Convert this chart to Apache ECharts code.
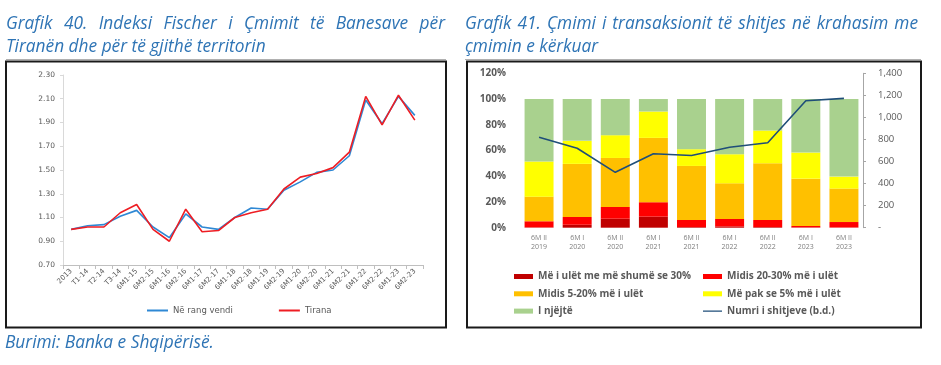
<!DOCTYPE html>
<html><head><meta charset="utf-8">
<script src="https://cdn.jsdelivr.net/npm/echarts@6/dist/echarts.min.js"></script>
<style>html,body{margin:0;padding:0;background:#fff}#c{width:941px;height:365px}</style>
</head><body><div id="c"></div>
<script>
// ---- Left chart data ----
const catsL = ['2013','T1-14','T2-14','T3-14','6M1-15','6M2-15','6M1-16','6M2-16','6M1-17','6M2-17','6M1-18','6M2-18','6M1-19','6M2-19','6M1-20','6M2-20','6M1-21','6M2-21','6M1-22','6M2-22','6M1-23','6M2-23'];
const vendi  = [1.00,1.03,1.04,1.11,1.16,1.02,0.93,1.13,1.02,1.00,1.10,1.18,1.17,1.33,1.40,1.48,1.50,1.62,2.09,1.89,2.12,1.96];
const tirana = [1.00,1.02,1.02,1.14,1.21,1.00,0.90,1.17,0.98,0.99,1.10,1.14,1.17,1.34,1.44,1.47,1.52,1.65,2.12,1.88,2.13,1.92];
const yTicksL = [0.70,0.90,1.10,1.30,1.50,1.70,1.90,2.10,2.30];

// ---- Right chart data ----
const catsR = ['6M II\n2019','6M I\n2020','6M II\n2020','6M I\n2021','6M II\n2021','6M I\n2022','6M II\n2022','6M I\n2023','6M II\n2023'];
const darkRed = [0.3,2.3,7.0,8.6,0.5,1.0,0.5,0.3,0.2];
const red     = [4.7,6.0,9.1,11.2,5.5,5.8,5.5,1.0,4.2];
const orange  = [19.1,41.3,38.1,50.0,42.0,27.7,44.1,36.8,26.0];
const yellow  = [27.3,17.9,17.7,20.5,13.0,22.6,25.4,20.3,9.3];
const green   = [48.6,32.5,28.1,9.7,39.0,42.9,24.5,41.6,60.3];
const sales   = [820,720,502,671,655,729,771,1151,1173];

const titleL1 = 'Grafik 40. Indeksi Fischer i Çmimit të Banesave për';
const titleL2 = 'Tiranën dhe për të gjithë territorin';
const titleR1 = 'Grafik 41. Çmimi i transaksionit të shitjes në krahasim me';
const titleR2 = 'çmimin e kërkuar';
const source  = 'Burimi: Banka e Shqipërisë.';

const TFONT = 'italic 17.3px "Open Sans"';
const TCOL = '#2e74b5';
const cv = document.createElement('canvas').getContext('2d');
cv.font = TFONT;
function justify(line, x0, x1, y) {
  const words = line.split(' ');
  const ws = words.map(w => cv.measureText(w).width);
  const tot = ws.reduce((a,b)=>a+b,0);
  const gap = (x1 - x0 - tot) / (words.length - 1);
  let x = x0; const out = [];
  words.forEach((w,i) => {
    out.push({type:'text', x:x, y:y, style:{text:w, font:TFONT, fill:TCOL, verticalAlign:'middle'}});
    x += ws[i] + gap;
  });
  return out;
}
function plain(line, x, y) {
  return {type:'text', x:x, y:y, style:{text:line, font:TFONT, fill:TCOL, verticalAlign:'middle'}};
}

const graphics = [].concat(
  justify(titleL1, 6, 445, 24),
  [plain(titleL2, 6, 47)],
  justify(titleR1, 465, 918, 24),
  [plain(titleR2, 465, 47)],
  [plain(source, 5, 343)],
  [
    {type:'line', shape:{x1:6,y1:59.5,x2:446,y2:59.5}, style:{stroke:'#b0b0b0', lineWidth:1}},
    {type:'line', shape:{x1:465,y1:59.5,x2:921,y2:59.5}, style:{stroke:'#b0b0b0', lineWidth:1}},
    {type:'rect', shape:{x:6,y:61.5,width:440,height:266}, style:{fill:null, stroke:'#1a1a1a', lineWidth:2}, z:-1},
    {type:'rect', shape:{x:467,y:61.5,width:454,height:266}, style:{fill:null, stroke:'#1a1a1a', lineWidth:2}, z:-1}
  ]
);

const chart = echarts.init(document.getElementById('c'), null, {renderer:'canvas'});
const lblL = {fontFamily:'DejaVu Sans', color:'#595959'};
const lblR = {fontFamily:'Open Sans', color:'#595959'};
const lineIcon = 'path://M0,0L0,0Z M0,1.8H19V3.2H0Z M0,5L0,5Z';

chart.setOption({
  animation:false,
  backgroundColor:'#fff',
  graphic: graphics,
  grid:[
    {left:63, right:941-423, top:75, bottom:365-265, containLabel:false},
    {left:520, right:941-863, top:73.3, bottom:365-227.7, containLabel:false}
  ],
  legend:[
    {data:['Në rang vendi','Tirana'], left:142, top:301, itemWidth:21, itemHeight:2, itemGap:46, icon:'rect',
     textStyle:{...lblL, fontSize:8.5}},
    {orient:'vertical', left:509, top:265.5, itemWidth:19, itemHeight:5, itemGap:5.3,
     data:[{name:'Më i ulët me më shumë se 30%', icon:'rect'},{name:'Midis 5-20% më i ulët', icon:'rect'},{name:'I njëjtë', icon:'rect'}],
     textStyle:{...lblR, fontSize:10, fontWeight:'bold', lineHeight:12}},
    {orient:'vertical', left:698, top:265.5, itemWidth:19, itemHeight:5, itemGap:5.3,
     data:[{name:'Midis 20-30% më i ulët', icon:'rect'},{name:'Më pak se 5% më i ulët', icon:'rect'},{name:'Numri i shitjeve (b.d.)', icon:lineIcon}],
     textStyle:{...lblR, fontSize:10, fontWeight:'bold', lineHeight:12}}
  ],
  xAxis:[
    {gridIndex:0, type:'category', data:catsL, boundaryGap:true,
     axisLine:{lineStyle:{color:'#bfbfbf'}}, axisTick:{show:true, length:4, lineStyle:{color:'#bfbfbf'}},
     axisLabel:{...lblL, rotate:45, fontSize:7, interval:0, margin:5}},
    {gridIndex:1, type:'category', data:catsR, boundaryGap:true,
     axisLine:{show:false}, axisTick:{show:false},
     axisLabel:{...lblR, color:'#7f7f7f', fontSize:7, lineHeight:9, interval:0, margin:6}}
  ],
  yAxis:[
    {gridIndex:0, type:'value', min:0.7, max:2.3,
     axisLine:{show:true, lineStyle:{color:'#d9d9d9'}},
     axisTick:{show:true, length:3, lineStyle:{color:'#d9d9d9'}, customValues:yTicksL},
     splitLine:{show:false},
     axisLabel:{...lblL, fontSize:7.5, margin:8, customValues:yTicksL, formatter:v=>v.toFixed(2)}},
    {gridIndex:1, type:'value', min:0, max:120, interval:20,
     axisLine:{show:false}, axisTick:{show:false}, splitLine:{show:false},
     axisLabel:{...lblR, fontSize:10, fontWeight:'bold', margin:14, formatter:v=>v+'%'}},
    {gridIndex:1, type:'value', position:'right', min:0, max:1400, interval:200,
     axisLine:{show:true, lineStyle:{color:'#a6a6a6'}}, axisTick:{show:true, length:3, lineStyle:{color:'#a6a6a6'}},
     splitLine:{show:false},
     axisLabel:{...lblR, fontSize:9.5, margin:15, formatter:v=> v===0 ? '-' : v.toLocaleString('en-US')}}
  ],
  series:[
    {name:'Në rang vendi', type:'line', xAxisIndex:0, yAxisIndex:0, data:vendi, symbol:'none',
     lineStyle:{color:'#2f88d4', width:1.6}, itemStyle:{color:'#2f88d4'}},
    {name:'Tirana', type:'line', xAxisIndex:0, yAxisIndex:0, data:tirana, symbol:'none',
     lineStyle:{color:'#ee1d23', width:1.6}, itemStyle:{color:'#ee1d23'}},
    {name:'Më i ulët me më shumë se 30%', type:'bar', stack:'s', xAxisIndex:1, yAxisIndex:1, data:darkRed, barCategoryGap:'24%', itemStyle:{color:'#c00000'}},
    {name:'Midis 20-30% më i ulët', type:'bar', stack:'s', xAxisIndex:1, yAxisIndex:1, data:red, itemStyle:{color:'#ff0000'}},
    {name:'Midis 5-20% më i ulët', type:'bar', stack:'s', xAxisIndex:1, yAxisIndex:1, data:orange, itemStyle:{color:'#ffc000'}},
    {name:'Më pak se 5% më i ulët', type:'bar', stack:'s', xAxisIndex:1, yAxisIndex:1, data:yellow, itemStyle:{color:'#ffff00'}},
    {name:'I njëjtë', type:'bar', stack:'s', xAxisIndex:1, yAxisIndex:1, data:green, itemStyle:{color:'#a9d18e'}},
    {name:'Numri i shitjeve (b.d.)', type:'line', xAxisIndex:1, yAxisIndex:2, data:sales, symbol:'none', z:5,
     lineStyle:{color:'#1f4e79', width:1.6}, itemStyle:{color:'#1f4e79'}}
  ]
});
</script></body></html>
